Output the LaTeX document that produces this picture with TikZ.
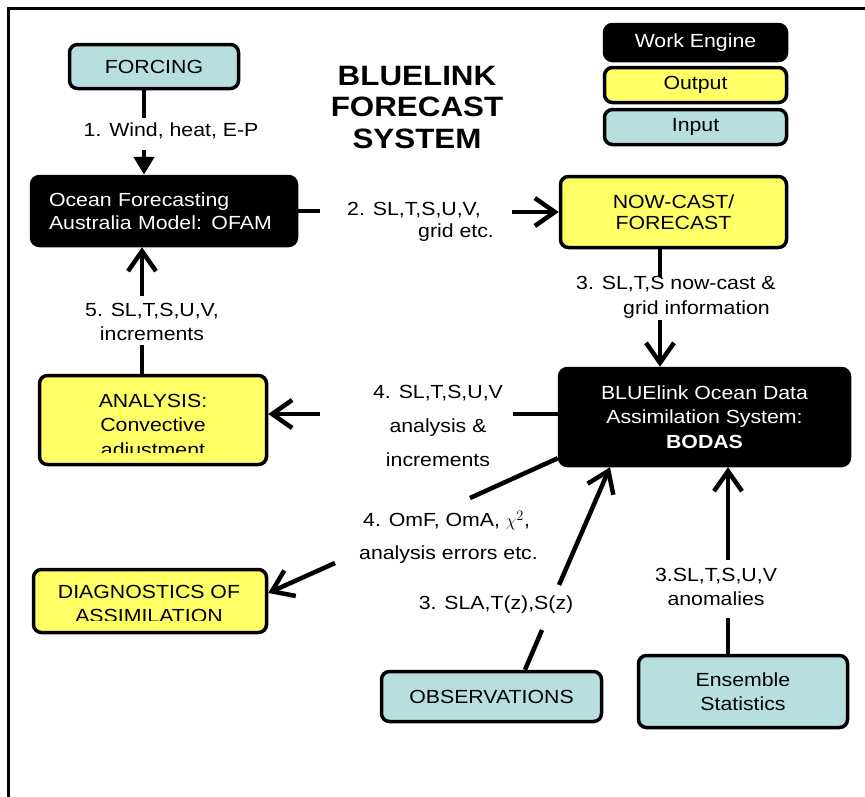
\documentclass[tikz,border=0pt]{standalone}
\usepackage{fontspec}
\setmainfont{Liberation Sans}[FakeStretch=1.12]
\usetikzlibrary{arrows.meta}
\definecolor{outyellow}{HTML}{FFFF66}
\definecolor{inblue}{HTML}{B7DFE0}
\tikzset{
  box/.style={draw=black, line width=3.5pt, rounded corners=8pt, inner sep=0pt,
    font=\fontsize{19}{23.5}\selectfont, align=center},
  engine/.style={box, fill=black, text=white},
  outbox/.style={box, fill=outyellow},
  inbox/.style={box, fill=inblue},
  conn/.style={line width=4.5pt},
  barb/.style={conn, -{Straight Barb[length=20pt,width=28pt]}},
  lbl/.style={font=\fontsize{19}{23.5}\selectfont, inner sep=0pt},
}
\begin{document}
\begin{tikzpicture}[x=1pt,y=-1pt]
\useasboundingbox (0,0) rectangle (865,796);
% frame
\draw[line width=3pt] (8,800) -- (8,8) -- (870,8);

% title
\node[font=\fontsize{28}{31.5}\selectfont\bfseries, align=center] (title) at (417,107) {BLUELINK\\FORECAST\\SYSTEM};

% legend
\node[engine, minimum width=182pt, minimum height=36pt] (work) at (695.5,42.5) {Work Engine};
\node[outbox, minimum width=182pt, minimum height=35pt] (output) at (695.5,85) {Output};
\node[inbox, minimum width=182pt, minimum height=35pt] (input) at (695.5,127) {Input};

% boxes
\node[inbox, minimum width=169pt, minimum height=44pt] (forcing) at (154,66.5) {FORCING};
\node[engine, minimum width=265pt, minimum height=69pt, text width=230pt, align=left] (ofam) at (164,211) {Ocean Forecasting\\Australia Model: OFAM};
\node[outbox, minimum width=226pt, minimum height=71pt, font=\fontsize{19}{21}\selectfont] (nowcast) at (673.5,212) {NOW-CAST/\\FORECAST};
\node[engine, minimum width=290pt, minimum height=97pt, font=\fontsize{19}{24.5}\selectfont] (bodas) at (704.5,417) {BLUElink Ocean Data\\Assimilation System:\\\textbf{BODAS}};
\node[outbox, minimum width=227pt, minimum height=89pt] (analysis) at (153,420) {};
\begin{scope}
  \clip (40,376) rectangle (266,452);
  \node[lbl, align=center, font=\fontsize{19}{24.5}\selectfont] (analysistext) at (153,427) {ANALYSIS:\\Convective\\adjustment};
\end{scope}
\node[outbox, minimum width=233pt, minimum height=63pt] (diag) at (150,601) {};
\begin{scope}
  \clip (34,570) rectangle (266,620);
  \node[lbl, align=center, font=\fontsize{19}{24}\selectfont] (diagtext) at (149,604) {DIAGNOSTICS OF\\ASSIMILATION};
\end{scope}
\node[inbox, minimum width=220pt, minimum height=50pt] (obs) at (491.5,696.5) {OBSERVATIONS};
\node[inbox, minimum width=209pt, minimum height=72pt] (ens) at (743,691.5) {Ensemble\\Statistics};

% gap coordinates
\coordinate (g1a) at (144,118); \coordinate (g1b) at (144,150);
\coordinate (g2a) at (320,211); \coordinate (g2b) at (512,212);
\coordinate (g3a) at (660,277); \coordinate (g3b) at (660,320);
\coordinate (g4a) at (513,414); \coordinate (g4b) at (320,414);
\coordinate (g5a) at (142,345); \coordinate (g5b) at (142,296);
\coordinate (g6a) at (470,498); \coordinate (g6b) at (335,563);
\coordinate (g7a) at (542,630); \coordinate (g7b) at (559,585);
\coordinate (g8a) at (728,618); \coordinate (g8b) at (728,560);

% connectors
\draw[conn] ([xshift=-10pt]forcing.south) -- (g1a);
\draw[conn, -{Triangle[length=18pt,width=20pt]}] (g1b) -- (g1b |- ofam.north);
\draw[conn] (ofam.east) -- (g2a);
\draw[barb] (g2b) -- (nowcast.west);
\draw[conn] (g3a |- nowcast.south) -- (g3a);
\draw[barb] (g3b) -- (g3b |- bodas.north);
\draw[conn] (g4a -| bodas.west) -- (g4a);
\draw[barb] (g4b) -- (g4b -| analysis.east);
\draw[conn] (g5a |- analysis.north) -- (g5a);
\draw[barb] (g5b) -- (g5b |- ofam.south);
\draw[conn] ([yshift=9pt]bodas.south west) -- (g6a);
\draw[barb] (g6b) -- ([yshift=8pt]diag.east);
\draw[conn] ([xshift=33.5pt]obs.north) -- (g7a);
\draw[barb] (g7b) -- ([xshift=-94.5pt]bodas.south);
\draw[conn] (g8a |- ens.north) -- (g8a);
\draw[barb] (g8b) -- (g8b |- bodas.south);

% labels
\node[lbl] (l1) at (171,131) {1. Wind, heat, E-P};
\node[lbl, align=left, anchor=west, font=\fontsize{19}{22}\selectfont] (l2) at (347,222) {2. SL,T,S,U,V,\\\hspace*{71pt}grid etc.};
\node[lbl, align=left, anchor=west, font=\fontsize{19}{25}\selectfont] (l3) at (576,297) {3. SL,T,S now-cast \&\\\hspace*{47pt}grid information};
\node[lbl, align=center, font=\fontsize{19}{34}\selectfont] (l4) at (438,426) {4. SL,T,S,U,V\\analysis \&\\increments};
\node[lbl, align=center, font=\fontsize{19}{24}\selectfont] (l5) at (152,322) {5. SL,T,S,U,V,\\increments};
\node[lbl, align=left, anchor=west, font=\fontsize{19}{33}\selectfont] (l6) at (359,537) {\hspace*{4pt}4. OmF, OmA, $\chi^{2}$,\\analysis errors etc.};
\node[lbl] (l7) at (496,605) {3. SLA,T(z),S(z)};
\node[lbl, align=center, font=\fontsize{19}{24}\selectfont] (l8) at (716,587) {3.SL,T,S,U,V\\anomalies};
\end{tikzpicture}
\end{document}
